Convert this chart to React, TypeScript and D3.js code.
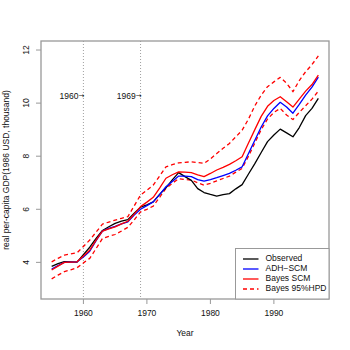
import React from 'react';
import * as d3 from 'd3';

const years = d3.range(1955, 1998);

const observed = [
  3.85, 3.95, 4.03, 4.02, 4.01, 4.29, 4.57, 4.9, 5.2, 5.34, 5.47, 5.55, 5.61, 5.85, 6.08,
  6.17, 6.28, 6.56, 6.81, 7.11, 7.38, 7.23, 7.09, 6.78, 6.63, 6.56, 6.5, 6.55, 6.59, 6.77,
  6.93, 7.33, 7.72, 8.14, 8.55, 8.8, 9.02, 8.88, 8.73, 9.08, 9.53, 9.8, 10.18,
];

const adhScm = [
  3.75, 3.88, 4.0, 4.01, 4.02, 4.2, 4.42, 4.82, 5.18, 5.28, 5.36, 5.45, 5.53, 5.78, 6.0,
  6.14, 6.28, 6.55, 6.85, 7.05, 7.25, 7.25, 7.23, 7.12, 7.06, 7.12, 7.19, 7.27, 7.35, 7.47,
  7.6, 8.1, 8.6, 9.1, 9.52, 9.8, 10.03, 9.85, 9.62, 9.95, 10.3, 10.6, 10.98,
];

const bayesScm = [
  3.71, 3.86, 4.0, 4.01, 4.02, 4.24, 4.46, 4.84, 5.18, 5.26, 5.34, 5.45, 5.55, 5.82, 6.1,
  6.27, 6.45, 6.8, 7.17, 7.3, 7.41, 7.4, 7.38, 7.3, 7.23, 7.35, 7.48, 7.58, 7.69, 7.83,
  7.98, 8.5, 9.0, 9.5, 9.88, 10.1, 10.24, 10.05, 9.85, 10.15, 10.45, 10.7, 11.05,
];

const hpdUpper = [
  4.02, 4.15, 4.27, 4.32, 4.36, 4.6, 4.84, 5.14, 5.44, 5.52, 5.59, 5.66, 5.72, 6.13, 6.54,
  6.72, 6.91, 7.25, 7.6, 7.68, 7.75, 7.77, 7.79, 7.76, 7.73, 7.9, 8.1, 8.3, 8.48, 8.73,
  8.98, 9.4, 9.9, 10.3, 10.62, 10.8, 10.97, 10.75, 10.43, 10.85, 11.18, 11.45, 11.78,
];

const hpdLower = [
  3.38, 3.52, 3.65, 3.72, 3.8, 3.98, 4.15, 4.52, 4.9, 4.98, 5.05, 5.18, 5.32, 5.6, 5.9,
  6.0, 6.12, 6.45, 6.79, 6.98, 7.15, 7.12, 7.1, 7.0, 6.91, 6.98, 7.07, 7.16, 7.25, 7.4,
  7.54, 8.0, 8.5, 9.0, 9.4, 9.65, 9.8, 9.55, 9.38, 9.65, 9.9, 10.15, 10.45,
];

const xTicks = [1960, 1970, 1980, 1990];
const yTicks = [4, 6, 8, 10, 12];
const events = [1960, 1969];

const legendItems = [
  { label: 'Observed', color: 'black', dash: null },
  { label: 'ADH\u2212SCM', color: 'blue', dash: null },
  { label: 'Bayes SCM', color: 'red', dash: null },
  { label: 'Bayes 95%HPD', color: 'red', dash: '4,3' },
];

const font = 'Liberation Sans, Arial, Helvetica, sans-serif';
const fs = 8.5;

export default function App() {
  const left = 41, right = 329, top = 41, bottom = 299;
  const x = d3.scaleLinear().domain([1953.32, 1998.68]).range([left, right]);
  const y = d3.scaleLinear().domain([2.62, 12.34]).range([bottom, top]);

  const line = d3
    .line<number>()
    .x((_, i) => x(years[i]))
    .y((d) => y(d));

  const series = [
    { values: hpdUpper, color: 'red', dash: '4,3' },
    { values: hpdLower, color: 'red', dash: '4,3' },
    { values: observed, color: 'black', dash: null },
    { values: adhScm, color: 'blue', dash: null },
    { values: bayesScm, color: 'red', dash: null },
  ];

  const lgX = 235.5, lgY = 248.5;

  return (
    <svg
      width={350}
      height={350}
      style={{ position: 'absolute', left: 0, top: 0, background: 'white' }}
      fontFamily={font}
    >
      {/* event lines */}
      {events.map((e) => (
        <g key={e}>
          <line
            x1={x(e)}
            x2={x(e)}
            y1={top}
            y2={bottom}
            stroke="#888"
            strokeWidth={0.8}
            strokeDasharray="1,2"
          />
          <text
            x={x(e) + 1}
            y={y(10.25)}
            fontSize={fs}
            textAnchor="end"
            dominantBaseline="middle"
            fill="#111"
          >
            {e}
            <tspan fontFamily="DejaVu Sans" fontSize={7}>{'\u2192'}</tspan>
          </text>
        </g>
      ))}

      {series.map((s, i) => (
        <path
          key={i}
          d={line(s.values) || ''}
          fill="none"
          stroke={s.color}
          strokeWidth={1.3}
          strokeDasharray={s.dash || undefined}
          strokeLinejoin="round"
        />
      ))}

      {/* axis box */}
      <rect
        x={left}
        y={top}
        width={right - left}
        height={bottom - top}
        fill="none"
        stroke="#999"
        strokeWidth={1.3}
      />

      {/* x axis */}
      {xTicks.map((t) => (
        <g key={t}>
          <line x1={x(t)} x2={x(t)} y1={bottom} y2={bottom + 5} stroke="#999" strokeWidth={1} />
          <text x={x(t)} y={314} fontSize={fs} textAnchor="middle" dominantBaseline="middle" fill="#111">
            {t}
          </text>
        </g>
      ))}

      {/* y axis */}
      {yTicks.map((t) => (
        <g key={t}>
          <line x1={left - 5} x2={left} y1={y(t)} y2={y(t)} stroke="#999" strokeWidth={1} />
          <text
            transform={`translate(27,${y(t)}) rotate(-90)`}
            fontSize={fs}
            textAnchor="middle"
            dominantBaseline="middle"
            fill="#111"
          >
            {t}
          </text>
        </g>
      ))}

      <text x={(left + right) / 2} y={334} fontSize={fs} textAnchor="middle" dominantBaseline="middle" fill="#111">
        Year
      </text>
      <text
        transform={`translate(7,${(top + bottom) / 2}) rotate(-90)`}
        fontSize={fs}
        textAnchor="middle"
        dominantBaseline="middle"
        fill="#111"
      >
        real per-capita GDP(1986 USD, thousand)
      </text>

      {/* legend */}
      <rect x={lgX} y={lgY} width={right - lgX} height={bottom - lgY} fill="white" stroke="#999" strokeWidth={1} />
      {legendItems.map((it, i) => {
        const ly = 259 + i * 10;
        return (
          <g key={it.label}>
            <line
              x1={243}
              x2={258.5}
              y1={ly}
              y2={ly}
              stroke={it.color}
              strokeWidth={1.3}
              strokeDasharray={it.dash || undefined}
            />
            <text x={265.5} y={ly} fontSize={fs} dominantBaseline="middle" fill="#111">
              {it.label}
            </text>
          </g>
        );
      })}
    </svg>
  );
}
